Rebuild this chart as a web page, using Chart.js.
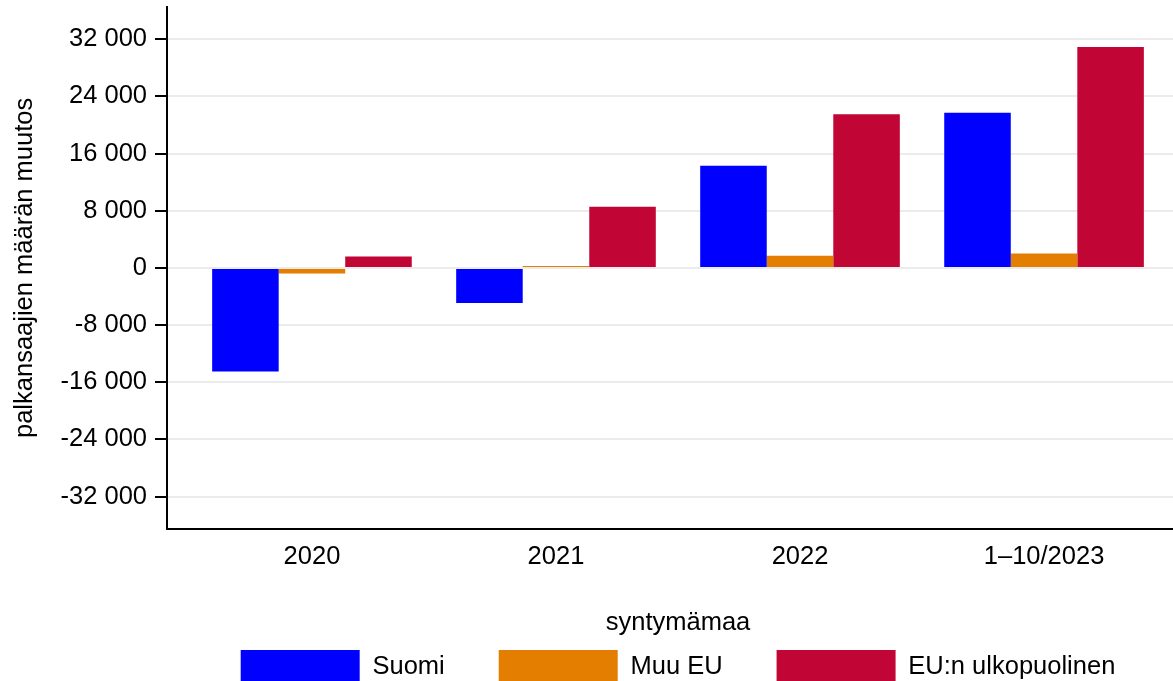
<!DOCTYPE html>
<html>
<head>
<meta charset="utf-8">
<script src="https://cdn.jsdelivr.net/npm/chart.js@4"></script>
<style>
  html, body { margin: 0; padding: 0; background: #fff; overflow: hidden; }
  #wrap { width: 1189px; height: 694px; }
</style>
</head>
<body>
<div id="wrap"><canvas id="chart" width="1189" height="694"></canvas></div>
<script>
'use strict';

const categories = ['2020', '2021', '2022', '1–10/2023'];
const seriesNames = ['Suomi', 'Muu EU', 'EU:n ulkopuolinen'];
const suomi = [-14500, -4900, 14300, 21700];
const muuEU = [-800, 270, 1700, 2000];
const euUlko = [1600, 8550, 21500, 30900];
const yTicks = [-32000, -24000, -16000, -8000, 0, 8000, 16000, 24000, 32000];
const colors = ['#0000ff', '#e37e00', '#c10534'];

let canvasElem = document.getElementById('chart');

Chart.defaults.font.family = '"Liberation Sans", Arial, sans-serif';
Chart.defaults.font.size = 25.5;
Chart.defaults.color = '#000';

function fmt(v) {
  let s = String(Math.abs(v)).replace(/\B(?=(\d{3})+(?!\d))/g, ' ');
  return v < 0 ? '-' + s : s;
}

function toPoints(values) {
  return values.map((v, i) => ({ x: i, y: v }));
}

function renderChart() {
  let allSeries = [suomi, muuEU, euUlko];
  let datasets = [];
  for (let i = 0; i < allSeries.length; i++) {
    datasets.push({
      label: seriesNames[i],
      data: toPoints(allSeries[i]),
      backgroundColor: colors[i],
      borderWidth: 0,
      categoryPercentage: 0.818,
      barPercentage: 1.0
    });
  }

  let chartObj = {
    type: 'bar',
    data: { datasets: datasets },
    options: {
      responsive: false,
      animation: false,
      layout: { padding: { top: 7, left: 0, right: 0, bottom: 0 } },
      plugins: {
        tooltip: { enabled: false },
        legend: {
          position: 'bottom',
          fullSize: false,
          title: {
            display: true,
            text: 'syntymämaa',
            padding: { top: 38, bottom: -45 }
          },
          labels: {
            boxWidth: 119,
            boxHeight: 34,
            padding: 54
          }
        }
      },
      scales: {
        x: {
          type: 'linear',
          offset: false,
          min: -0.594,
          max: 3.594,
          afterBuildTicks: (scale) => {
            scale.ticks = categories.map((c, i) => ({ value: i }));
          },
          afterFit: (scale) => {
            scale.height = 43.6;
            scale.paddingLeft = 0;
            scale.paddingRight = 0;
          },
          ticks: {
            padding: 13,
            maxRotation: 0,
            autoSkip: false,
            callback: (v) => categories[v]
          },
          grid: { display: false, drawTicks: false },
          border: { display: true, color: '#000', width: 2 }
        },
        y: {
          min: -36500,
          max: 36500,
          afterBuildTicks: (scale) => {
            scale.ticks = yTicks.map(v => ({ value: v }));
          },
          afterFit: (scale) => {
            scale.width = 167;
            scale.paddingTop = 0;
            scale.paddingBottom = 0;
          },
          ticks: {
            padding: 8,
            callback: (v) => fmt(v)
          },
          grid: {
            color: '#ebebeb',
            lineWidth: 2,
            tickColor: '#000',
            tickLength: 12,
            tickWidth: 2
          },
          border: { display: true, color: '#000', width: 2 },
          title: {
            display: true,
            text: 'palkansaajien määrän muutos',
            padding: { top: 10, bottom: 20 }
          }
        }
      }
    }
  };
  new Chart(canvasElem, chartObj);
}

renderChart();
</script>
</body>
</html>
